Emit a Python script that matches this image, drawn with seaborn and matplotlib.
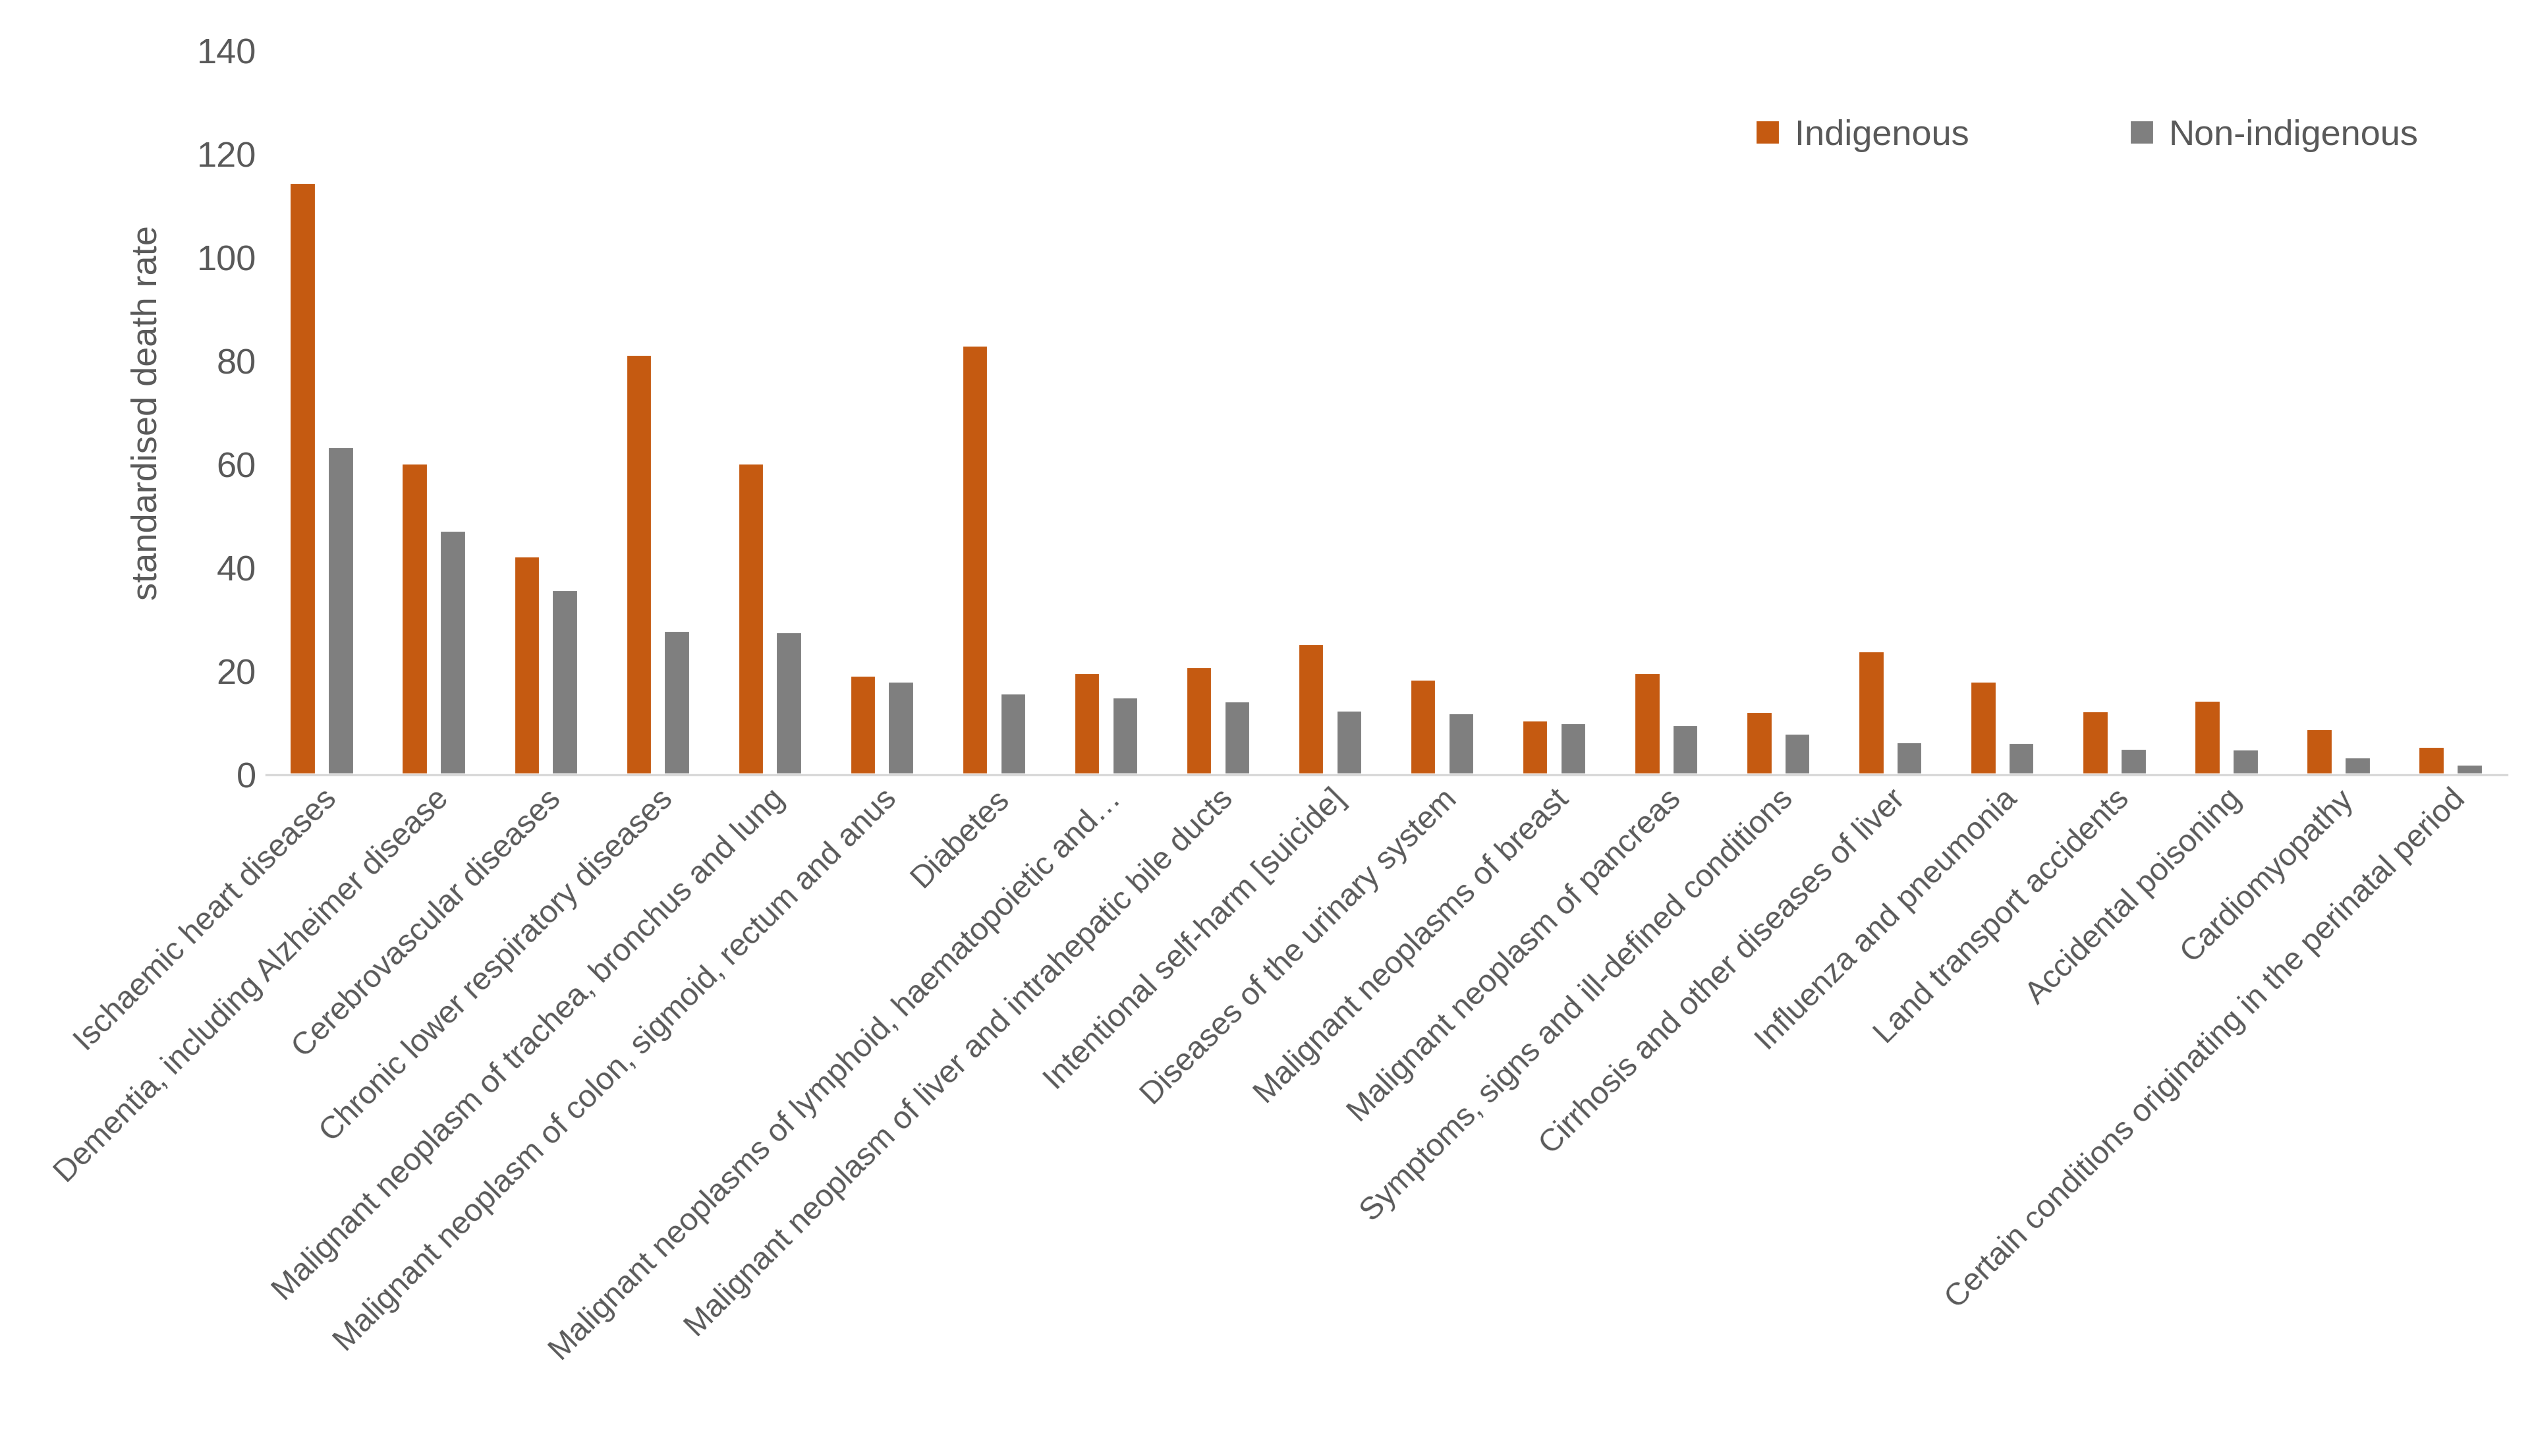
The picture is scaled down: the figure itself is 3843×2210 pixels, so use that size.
import pandas as pd
import matplotlib.pyplot as plt
import seaborn as sns

causes = [
    "Ischaemic heart diseases",
    "Dementia, including Alzheimer disease",
    "Cerebrovascular diseases",
    "Chronic lower respiratory diseases",
    "Malignant neoplasm of trachea, bronchus and lung",
    "Malignant neoplasm of colon, sigmoid, rectum and anus",
    "Diabetes",
    "Malignant neoplasms of lymphoid, haematopoietic and\u2026",
    "Malignant neoplasm of liver and intrahepatic bile ducts",
    "Intentional self-harm [suicide]",
    "Diseases of the urinary system",
    "Malignant neoplasms of breast",
    "Malignant neoplasm of pancreas",
    "Symptoms, signs and ill-defined conditions",
    "Cirrhosis and other diseases of liver",
    "Influenza and pneumonia",
    "Land transport accidents",
    "Accidental poisoning",
    "Cardiomyopathy",
    "Certain conditions originating in the perinatal period",
]
indigenous = [114.5, 60.2, 42.3, 81.3, 60.3, 19.2, 83.1, 19.7, 20.8, 25.3,
              18.5, 10.6, 19.7, 12.2, 23.9, 18.0, 12.3, 14.3, 8.9, 5.4]
non_indigenous = [63.4, 47.3, 35.8, 27.9, 27.6, 18.1, 15.8, 15.0, 14.2, 12.5,
                  11.9, 10.0, 9.7, 8.0, 6.3, 6.2, 5.0, 4.9, 3.4, 2.0]

df = pd.DataFrame({"cause": causes * 2,
                   "rate": indigenous + non_indigenous,
                   "group": ["Indigenous"] * len(causes) + ["Non-indigenous"] * len(causes)})

sns.set_style("white")
plt.rcParams['font.family'] = ['Liberation Sans', 'DejaVu Sans']
txt = "#595959"

fig = plt.figure(figsize=(12.81, 7.367), dpi=300)
ax = fig.add_axes([0.105, 0.468, 0.885, 0.497])
sns.barplot(data=df, x="cause", y="rate", hue="group", saturation=1,
            palette=["#C55A11", "#7F7F7F"], width=0.68, gap=0.3, ax=ax)

ax.set_ylim(0, 140)
ax.set_yticks(range(0, 141, 20))
ax.set_xlim(-0.5, len(causes) - 0.5)
ax.set_xlabel("")
ax.set_ylabel("standardised death rate", fontsize=13, color=txt, labelpad=12)
ax.tick_params(axis="y", labelsize=13, colors=txt, length=0)
ax.tick_params(axis="x", labelsize=11.5, colors=txt, length=0)
plt.setp(ax.get_xticklabels(), rotation=45, ha="right", rotation_mode="anchor")
for s in ["top", "right", "left"]:
    ax.spines[s].set_visible(False)
ax.spines["bottom"].set_color("#D9D9D9")

leg = ax.legend(loc="upper right", bbox_to_anchor=(0.975, 0.95), ncol=2, frameon=False,
                fontsize=13, handlelength=0.7, handleheight=0.7, columnspacing=4.5,
                handletextpad=0.4)
for t in leg.get_texts():
    t.set_color(txt)

fig.savefig("out.png", dpi=300)
